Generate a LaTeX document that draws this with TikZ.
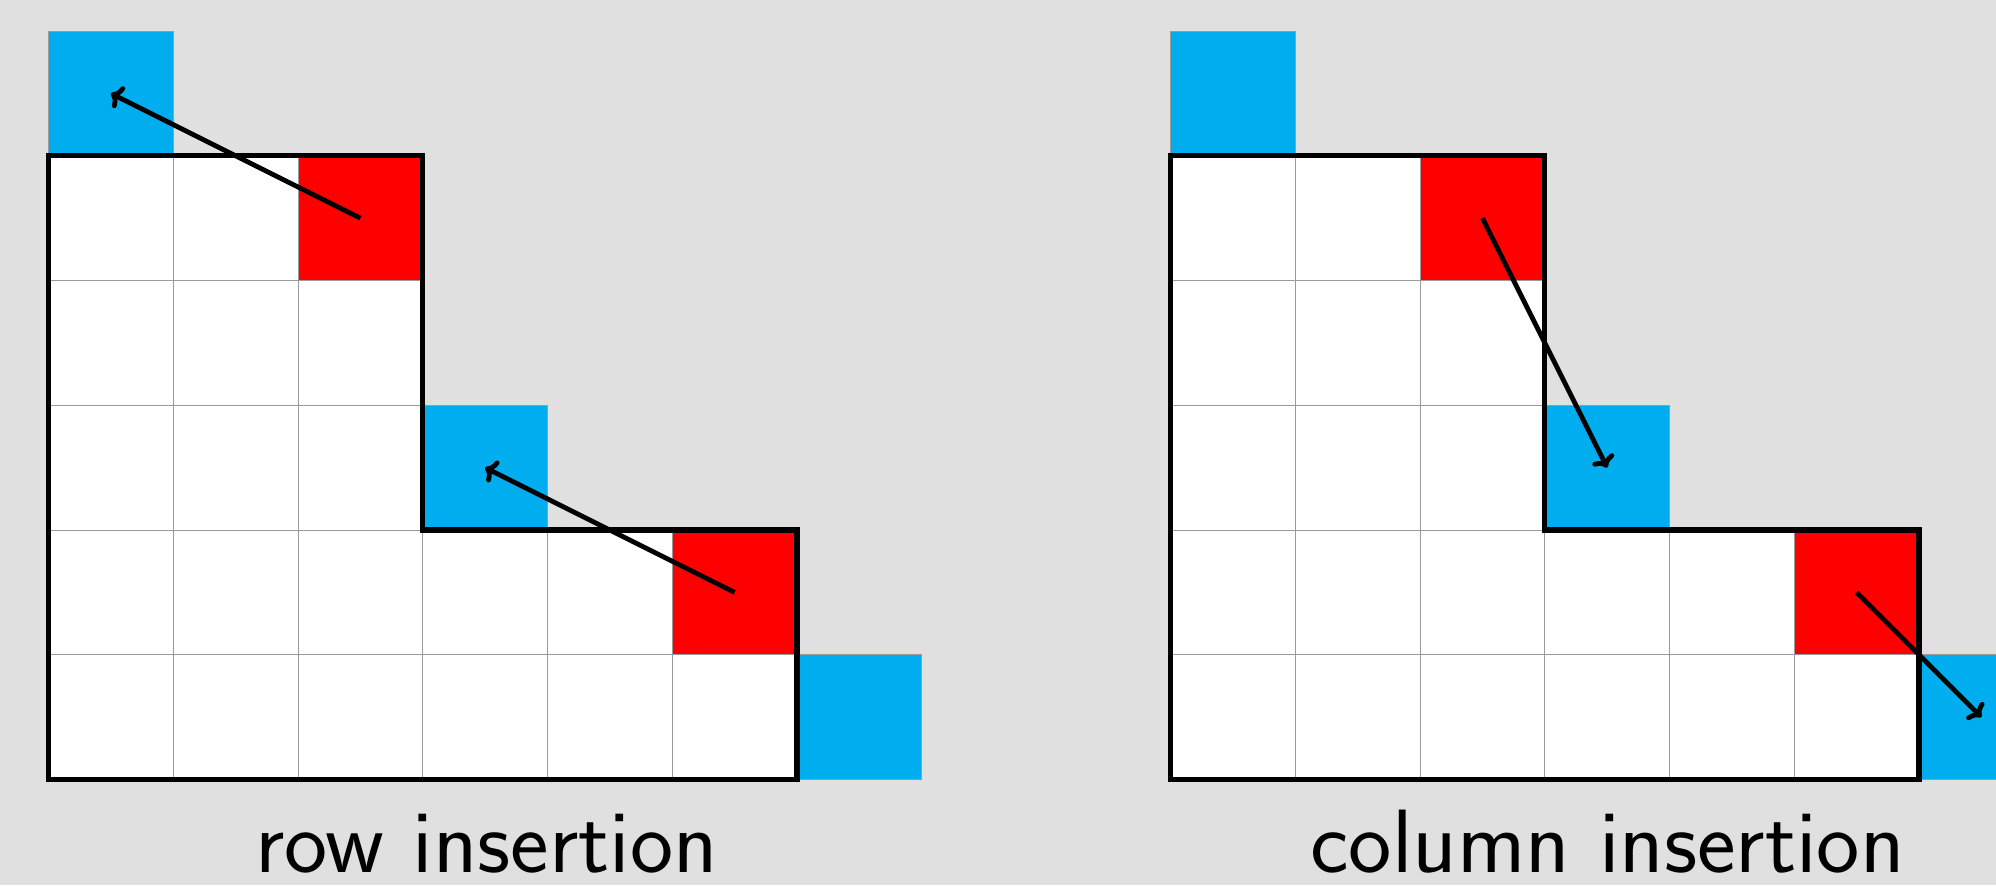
\documentclass[tikz,border=0pt]{standalone}
\usepackage{graphicx}
\usetikzlibrary{arrows.meta}
\definecolor{bg}{HTML}{E0E0E0}
\definecolor{cellblue}{HTML}{00AEEF}
\definecolor{cellred}{HTML}{FF0000}
\definecolor{gridgray}{HTML}{9A9A9A}
\tikzset{
 cell/.style={rectangle, draw=gridgray, line width=0.5pt, minimum size=62.375pt, inner sep=0pt, outer sep=0pt, fill=white},
 bluecell/.style={cell, fill=cellblue},
 redcell/.style={cell, fill=cellred},
 outline/.style={line width=2.7pt, draw=black},
 move/.style={-{Computer Modern Rightarrow[length=5.5pt, width=12pt]}, line width=2.4pt, draw=black},
 lbl/.style={font=\sffamily\fontsize{45}{50}\selectfont, inner sep=0pt, outer sep=0pt, anchor=base west}
}
% #1 prefix, #2 left x of grid
\newcommand{\youngdiag}[2]{%
  \foreach \r/\c in {1/0,1/1,2/0,2/1,2/2,3/0,3/1,3/2,4/0,4/1,4/2,4/3,4/4,5/0,5/1,5/2,5/3,5/4,5/5}
    \node[cell] (#1\r\c) at ({#2+(\c+0.5)*124.75},{31+(\r+0.5)*124.75}) {};
  \foreach \r/\c in {1/2,4/5}
    \node[redcell] (#1\r\c) at ({#2+(\c+0.5)*124.75},{31+(\r+0.5)*124.75}) {};
  \foreach \r/\c in {0/0,3/3,5/6}
    \node[bluecell] (#1\r\c) at ({#2+(\c+0.5)*124.75},{31+(\r+0.5)*124.75}) {};
  \draw[outline] (#110.north west) -- (#112.north east) -- (#132.south east)
    -- (#145.north east) -- (#155.south east) -- (#150.south west) -- cycle;
}
\begin{document}
\begin{tikzpicture}[x=0.5pt,y=-0.5pt]
\useasboundingbox (0,0) rectangle (1996,885);
\clip (0,0) rectangle (1996,885);
\fill[bg] (0,0) rectangle (1996,885);
\youngdiag{L}{48.5}
\youngdiag{R}{1170.5}
\draw[move] (L12.center) -- (L00.center);
\draw[move] (L45.center) -- (L33.center);
\draw[move] (R12.center) -- (R33.center);
\draw[move] (R45.center) -- (R56.center);
\node[lbl] (labL) at (255.5,872) {\resizebox{231pt}{\height}{row insertion}};
\node[lbl] (labR) at (1310.5,872) {\resizebox{297pt}{\height}{column insertion}};
\end{tikzpicture}
\end{document}
